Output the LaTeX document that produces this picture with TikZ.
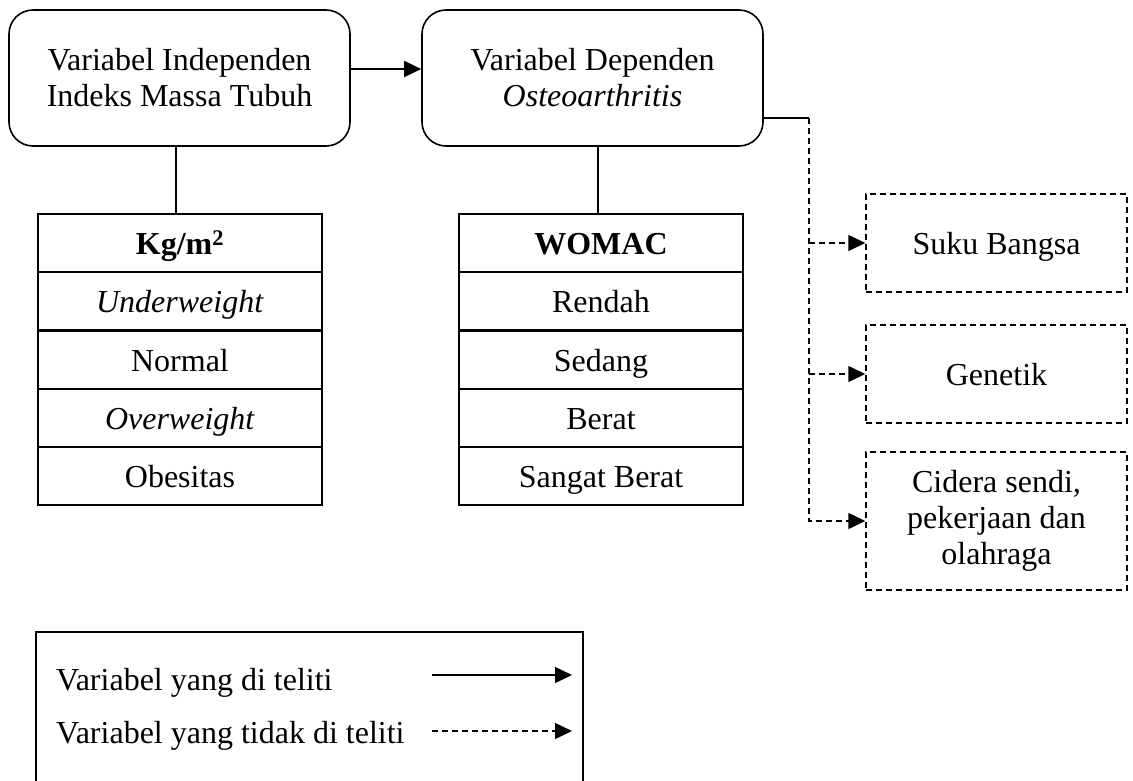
\documentclass[tikz,border=0pt]{standalone}
\usepackage{fontspec}
\setmainfont{Liberation Serif}
\usetikzlibrary{arrows.meta,calc}
\begin{document}
\begin{tikzpicture}[x=1pt,y=-1pt,
  every node/.style={font=\fontsize{32}{36}\selectfont, inner sep=0pt, align=center},
  mainbox/.style={draw, line width=1.6pt, rounded corners=24pt, minimum width=341pt, minimum height=136pt},
  cell/.style={draw, line width=1.6pt, minimum width=284pt, minimum height=58pt, text height=25pt, text depth=2pt},
  dbox/.style={draw, line width=1.4pt, dash pattern=on 6pt off 4pt, minimum width=261pt},
  oneline/.style={text height=25pt, text depth=2pt},
  conn/.style={line width=1.4pt},
  dconn/.style={line width=1.4pt, dash pattern=on 6pt off 4pt},
  arr/.style={-{Triangle[length=17pt,width=16pt]}},
]
\useasboundingbox (0,0) rectangle (1133,780);
\clip (0,0) rectangle (1133,780);

% main boxes
\node[mainbox] (box1) at (179.5,78) {Variabel Independen\\Indeks Massa Tubuh};
\node[mainbox] (box2) at (592.5,78) {Variabel Dependen\\\textit{Osteoarthritis}};

% left table
\node[cell] (k0) at (180,243) {\textbf{Kg/m\textsuperscript{2}}};
\node[cell] (k1) at (180,301) {\textit{Underweight}};
\node[cell] (k2) at (180,360) {Normal};
\node[cell] (k3) at (180,418) {\textit{Overweight}};
\node[cell] (k4) at (180,476) {Obesitas};

% middle table
\node[cell] (w0) at (601,243) {\textbf{WOMAC}};
\node[cell] (w1) at (601,301) {Rendah};
\node[cell] (w2) at (601,360) {Sedang};
\node[cell] (w3) at (601,418) {Berat};
\node[cell] (w4) at (601,476) {Sangat Berat};

% dashed boxes
\node[dbox, oneline, minimum height=98pt] (s1) at (996.5,243) {Suku Bangsa};
\node[dbox, oneline, minimum height=98pt] (s2) at (996.5,374) {Genetik};
\node[dbox, minimum height=138pt] (s3) at (996.5,521) {Cidera sendi,\\pekerjaan dan\\olahraga};

% connectors
\coordinate (ar) at (0,69);
\draw[conn,arr] (box1.east |- ar) -- (box2.west |- ar);
\coordinate (lline) at (176,0);
\draw[conn] (lline |- box1.south) -- (lline |- k0.north);
\coordinate (mline) at (598,0);
\draw[conn] (mline |- box2.south) -- (mline |- w0.north);

\coordinate (j) at (809,118);
\draw[conn] (box2.east |- j) -- (j);
\draw[dconn,arr] (j) -- (j |- s3.west) -- (s3.west);
\draw[dconn,arr] (j |- s1.west) -- (s1.west);
\draw[dconn,arr] (j |- s2.west) -- (s2.west);

% legend
\node[draw, line width=1.6pt, minimum width=547pt, minimum height=170pt] (legend) at (309.5,717) {};
\node[anchor=base west] (l1) at (56,690) {Variabel yang di teliti};
\node[anchor=base west] (l2) at (56,743) {Variabel yang tidak di teliti};
\coordinate (a1s) at (432,675);
\coordinate (a1e) at (572,675);
\coordinate (a2s) at (432,731);
\coordinate (a2e) at (572,731);
\draw[conn,arr] (a1s) -- (a1e);
\draw[dconn,arr] (a2s) -- (a2e);
\end{tikzpicture}
\end{document}
